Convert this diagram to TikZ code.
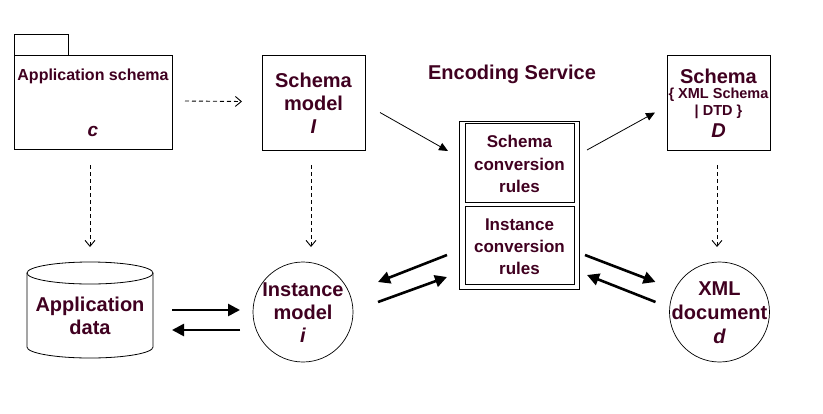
\documentclass[tikz,border=0pt]{standalone}
\usepackage{fontspec}
\setmainfont{Liberation Sans}
\usetikzlibrary{arrows.meta,calc}
\definecolor{txt}{RGB}{64,0,32}
\begin{document}
\begin{tikzpicture}[x=1pt,y=-1pt,
  lbl/.style={text=txt,font=\bfseries\fontsize{20}{22}\selectfont,inner sep=0,anchor=base},
  lblit/.style={lbl,font=\bfseries\itshape\fontsize{20}{22}\selectfont},
  small/.style={lbl,font=\bfseries\fontsize{17}{19}\selectfont},
  box/.style={draw,line width=1pt,inner sep=0,outer sep=0},
  ring/.style={draw,circle,line width=0.7pt,inner sep=0,outer sep=0,minimum size=100},
  dep/.style={line width=0.9pt,dash pattern=on 4pt off 3pt,-{Straight Barb[length=6pt,width=10pt]}},
  thin/.style={line width=0.8pt,-{Triangle[length=9pt,width=8pt]}},
  flow/.style={line width=2.6pt,-{Triangle[length=12pt,width=12pt]}}]
\fill[white] (0,0) rectangle (823,413);
\useasboundingbox (0,0) rectangle (823,413);
% package
\draw[line width=1pt] (14,55) -- (14,34) -- (68,34) -- (68,55);
\node[box,minimum width=158,minimum height=94,anchor=north west] (pkg) at (14,55) {};
\node[lbl,font=\bfseries\fontsize{16}{18}\selectfont] (pkgname) at (93,80) {Application schema};
\node[lblit,font=\bfseries\itshape\fontsize{19}{21}\selectfont] (pkgc) at (93,136) {c};
% schema model
\node[box,minimum width=103,minimum height=95,anchor=north west] (sm) at (262,55) {};
\node[lbl] (sm1) at (313.5,87) {Schema};
\node[lbl] (sm2) at (313.5,110) {model};
\node[lblit] (sm3) at (313.5,133) {I};
% encoding service
\node[lbl] (enctitle) at (512,79) {Encoding Service};
\node[box,minimum width=120,minimum height=168,anchor=north west] (enc) at (459,121) {};
\node[box,minimum width=109,minimum height=79,anchor=north west] (scr) at (465,123) {};
\node[box,minimum width=109,minimum height=78,anchor=north west] (icr) at (465,206) {};
\node[small] (scr1) at (519.5,147) {Schema};
\node[small] (scr2) at (519.5,170) {conversion};
\node[small] (scr3) at (519.5,192) {rules};
\node[small] (icr1) at (519.5,230) {Instance};
\node[small] (icr2) at (519.5,252) {conversion};
\node[small] (icr3) at (519.5,274) {rules};
% schema D
\node[box,minimum width=103,minimum height=95,anchor=north west] (sd) at (667,55) {};
\node[lbl] (sd1) at (718.5,83) {Schema};
\node[lbl,font=\bfseries\fontsize{14.5}{16}\selectfont] (sd2) at (718.5,98) {\{ XML Schema};
\node[lbl,font=\bfseries\fontsize{14.5}{16}\selectfont] (sd3) at (718.5,115) {| DTD \}};
\node[lblit] (sd4) at (718.5,137) {D};
% application data cylinder
\node[minimum width=126,minimum height=96,inner sep=0,outer sep=0] (cyl) at (90,310) {};
\draw[line width=0.8pt] (90,273) ellipse [x radius=63, y radius=11];
\draw[line width=0.8pt] (27,273) -- (27,347) arc[start angle=180,end angle=0,x radius=63,y radius=11] -- (153,273);
\node[lbl] (ad1) at (90,311) {Application};
\node[lbl] (ad2) at (90,334) {data};
% instance model
\node[ring] (inst) at (303,312) {};
\node[lbl] (in1) at (303,296) {Instance};
\node[lbl] (in2) at (303,319) {model};
\node[lblit] (in3) at (303,342) {i};
% XML document
\node[ring] (xml) at (719.5,312) {};
\node[lbl] (x1) at (719.5,295) {XML};
\node[lbl] (x2) at (719.5,319) {document};
\node[lblit] (x3) at (719.5,343) {d};
% dependency arrows
\draw[dep] ($(pkg.east)+(13,-1)$) -- ($(sm.west)+(-20,-1)$);
\draw[dep] ($(pkg.south)+(-3,16)$) -- ($(cyl.north)+(0,-15)$);
\draw[dep] ($(sm.south)+(-2.5,15)$) -- ($(inst.north)+(8,-15)$);
\draw[dep] ($(sd.south)+(-1.5,15)$) -- ($(xml.north)+(-2.5,-15)$);
% thin arrows
\draw[thin] ($(sm.east)+(15,10)$) -- ($(enc.north west)+(-11,30)$);
\draw[thin] ($(enc.north east)+(8,29)$) -- ($(sd.west)+(-12,10)$);
% thick flows
\draw[flow] ($(cyl.east)+(19,0)$) -- ($(inst.west)+(-13,-2)$);
\draw[flow] ($(inst.west)+(-13,18)$) -- ($(cyl.east)+(19,20)$);
\draw[flow] ($(enc.west)+(-12,50)$) -- ($(inst.east)+(25,-30)$);
\draw[flow] ($(inst.east)+(25,-10)$) -- ($(enc.west)+(-12,72)$);
\draw[flow] ($(enc.east)+(6,50)$) -- ($(xml.west)+(-14,-30)$);
\draw[flow] ($(xml.west)+(-14,-10)$) -- ($(enc.east)+(8,70)$);
\end{tikzpicture}
\end{document}
